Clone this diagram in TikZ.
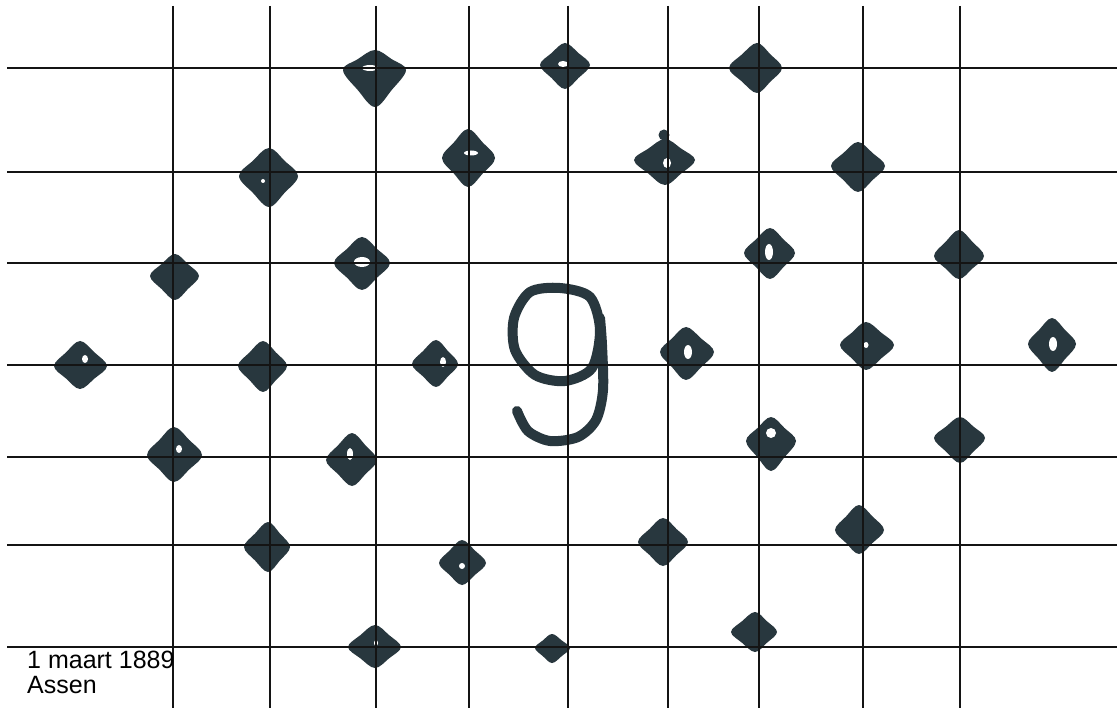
\documentclass[tikz,border=0pt]{standalone}
\usepackage{fontspec}
\setmainfont{Liberation Sans}
\definecolor{ink}{HTML}{28373E}
\definecolor{gridcol}{HTML}{141414}
\newcommand{\blobat}[6]{% x y left right up down
  \fill[ink] plot[smooth cycle, tension=0.6] coordinates {({#1+#4},{#2}) ({#1+0.54*#4},{#2-0.54*#5}) ({#1},{#2-#5}) ({#1-0.54*#3},{#2-0.54*#5}) ({#1-#3},{#2}) ({#1-0.54*#3},{#2+0.54*#6}) ({#1},{#2+#6}) ({#1+0.54*#4},{#2+0.54*#6})};}
\newcommand{\holeat}[4]{\fill[white] (#1,#2) ellipse [x radius=#3pt, y radius=#4pt];}
\tikzset{
  gridline/.style={draw=gridcol, line width=2pt},
  ninestroke/.style={draw=ink, line width=10pt, line cap=round, line join=round},
  caption/.style={anchor=base west, inner sep=0pt, font=\fontsize{25pt}{25pt}\selectfont, text=black}
}
\begin{document}
\begin{tikzpicture}[x=1pt, y=-1pt]
\fill[white] (0,0) rectangle (1119,708);
\useasboundingbox (0,0) rectangle (1119,708);
% dots
\blobat{375}{70}{32}{31}{20}{37} \holeat{370}{68}{8}{3}
\blobat{565}{65}{25}{25}{22}{24} \holeat{563}{64}{5}{3}
\blobat{757}{68}{28}{25}{25}{25}
\blobat{269}{176}{30}{29}{28}{31} \holeat{263}{181}{2}{2}
\blobat{468}{158}{26}{27}{29}{29} \holeat{471}{153}{7}{2.5}
\blobat{665}{160}{31}{30}{21}{25} \holeat{667}{163}{4}{5}
\fill[ink] (664,135) circle[radius=5.5pt];
\draw[ink, line width=5pt] (664,135) -- (665,145);
\blobat{858}{166}{27}{27}{24}{26}
\blobat{175}{276}{25}{24}{22}{24}
\blobat{362}{263}{28}{28}{26}{27} \holeat{362}{262}{8}{5}
\blobat{770}{253}{26}{25}{25}{26} \holeat{769}{252}{4}{8}
\blobat{959}{256}{25}{25}{26}{23}
\blobat{80}{366}{26}{27}{25}{23} \holeat{85}{359}{3}{4}
\blobat{263}{366}{25}{24}{25}{26}
\blobat{436}{364}{24}{22}{24}{23} \holeat{443}{362}{3}{5}
\blobat{686}{352}{26}{28}{25}{28} \holeat{688}{352}{4}{7}
\blobat{866}{345}{26}{28}{23}{25} \holeat{866}{345}{2.5}{3}
\blobat{1052}{344}{24}{24}{26}{28} \holeat{1053}{344}{4}{7}
\blobat{174}{455}{27}{28}{28}{27} \holeat{179}{449}{3}{4}
\blobat{352}{460}{26}{25}{27}{26} \holeat{350}{454}{3}{6}
\blobat{771}{441}{25}{25}{24}{30} \holeat{771}{433}{5}{5}
\blobat{960}{438}{26}{25}{21}{25}
\blobat{268}{547}{24}{22}{25}{25}
\blobat{462}{563}{23}{24}{23}{22} \holeat{462}{566}{3}{3}
\blobat{663}{542}{25}{25}{24}{24}
\blobat{859}{530}{24}{25}{25}{24}
\blobat{375}{647}{27}{26}{22}{21} \holeat{376}{643}{2}{3}
\blobat{552}{648}{17}{18}{14}{15}
\blobat{755}{632}{24}{22}{20}{20}
% the 9
\draw[ninestroke] plot[smooth cycle] coordinates {(600,330) (590,297) (560,288) (530,292) (514,318) (515,350) (535,375) (565,381) (592,368)};
\draw[ninestroke] plot[smooth] coordinates {(600,318) (602,345) (603,390) (596,420) (578,437) (550,441) (528,431) (517,411)};
% grid
\foreach \yy in {68,172,263,365,457,545,647} \draw[gridline] (7,\yy) -- (1117,\yy);
\foreach \xx in {173,270,376,469,568,668,759,863,960} \draw[gridline] (\xx,6) -- (\xx,708);
% captions
\node[caption] (date) at (27,668) {1 maart 1889};
\node[caption] (place) at (27,693) {Assen};
\end{tikzpicture}
\end{document}
